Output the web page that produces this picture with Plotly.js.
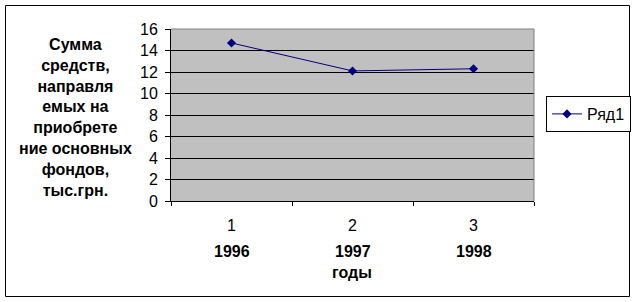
<!DOCTYPE html>
<html>
<head>
<meta charset="utf-8">
<script src="https://cdn.plot.ly/plotly-3.0.1.min.js"></script>
<style>body{margin:0;background:#fff}#chart{width:635px;height:302px}</style>
</head>
<body>
<div id="chart"></div>
<script>
const categories = ["1", "2", "3"];
const years = ["1996", "1997", "1998"];
const values = [14.7, 12.1, 12.3];
const seriesName = "Ряд1";
const yTitleLines = ["Сумма", "средств,", "направля", "емых на", "приобрете", "ние основных", "фондов,", "тыс.грн."];
const xTitle = "годы";
const yTicks = [0, 2, 4, 6, 8, 10, 12, 14, 16];

const FONT = "Liberation Sans, Arial, sans-serif";
const W = 635, H = 302, L = 171, R = 101, T = 29, B = 101;
const pw = W - L - R, ph = H - T - B;
const px = v => (v - L) / pw;
const py = v => (H - B - v) / ph;

const trace = {
  type: "scatter", mode: "lines+markers",
  x: categories, y: values, name: seriesName,
  line: {color: "#000080", width: 1},
  marker: {symbol: "diamond", size: 7, color: "#000080"}
};

const annotations = years.map((yr, i) => ({
  x: i, xref: "x", y: py(251), yref: "paper",
  text: "<b>" + yr + "</b>", showarrow: false,
  xanchor: "center", yanchor: "middle",
  font: {family: FONT, size: 16, color: "#000"}
}));
annotations.push({
  x: px(75), xref: "paper", y: py(117), yref: "paper",
  text: yTitleLines.map(s => "<b>" + s + "</b>").join("<br>"),
  showarrow: false, xanchor: "center", yanchor: "middle", align: "center",
  font: {family: FONT, size: 16, color: "#000"}
});
annotations.push({
  x: px(352), xref: "paper", y: py(272), yref: "paper",
  text: "<b>" + xTitle + "</b>", showarrow: false,
  xanchor: "center", yanchor: "middle",
  font: {family: FONT, size: 16, color: "#000"}
});

const layout = {
  width: W, height: H,
  margin: {l: L, r: R, t: T, b: B, pad: 0, autoexpand: false},
  paper_bgcolor: "#ffffff", plot_bgcolor: "#c0c0c0",
  font: {family: FONT, size: 16, color: "#000"},
  showlegend: true,
  legend: {
    x: px(546), y: py(114), xanchor: "left", yanchor: "middle",
    bordercolor: "#000", borderwidth: 1, bgcolor: "#fff",
    font: {family: FONT, size: 16, color: "#000"}
  },
  xaxis: {
    type: "category", range: [-0.5, 2.5], tickson: "boundaries",
    ticks: "outside", ticklen: 4, tickcolor: "#000", tickwidth: 1,
    showline: true, linecolor: "#000", linewidth: 1,
    showgrid: false, zeroline: false, fixedrange: true,
    ticklabelstandoff: 10,
    tickfont: {family: FONT, size: 16, color: "#000"}
  },
  yaxis: {
    range: [0, 16], tickvals: yTicks, ticktext: yTicks.map(String),
    ticks: "outside", ticklen: 5, tickcolor: "#000", tickwidth: 1,
    showline: true, linecolor: "#000", linewidth: 1,
    showgrid: true, gridcolor: "#000", gridwidth: 1, zeroline: false,
    ticklabelstandoff: 4, fixedrange: true,
    tickfont: {family: FONT, size: 16, color: "#000"}
  },
  annotations: annotations,
  shapes: [
    {type: "path", xref: "paper", yref: "paper", layer: "above",
     path: "M0,1 L1,1 L1,0", line: {color: "#808080", width: 1}},
    {type: "rect", xref: "paper", yref: "paper", layer: "above",
     x0: px(5.5), x1: px(629.5), y0: py(296.5), y1: py(5.5),
     line: {color: "#000", width: 1}}
  ]
};

Plotly.newPlot("chart", [trace], layout, {staticPlot: true, displayModeBar: false});
</script>
</body>
</html>
